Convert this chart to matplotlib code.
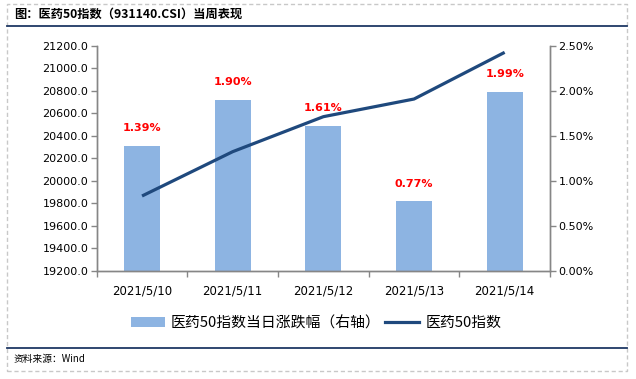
import matplotlib
matplotlib.use("Agg")
import matplotlib.pyplot as plt
from matplotlib.lines import Line2D
from matplotlib.patches import Rectangle, Patch
from matplotlib.ticker import FuncFormatter, MultipleLocator

plt.rcParams['font.family'] = ['DejaVu Sans', 'Noto Sans CJK SC']

categories = ["2021/5/10", "2021/5/11", "2021/5/12", "2021/5/13", "2021/5/14"]
pct_change = [1.39, 1.90, 1.61, 0.77, 1.99]          # %, right axis
index_close = [19864, 20258, 20569, 20726, 21141]    # left axis
title = "图：医药50指数（931140.CSI）当周表现"
bar_label = "医药50指数当日涨跌幅（右轴）"
line_label = "医药50指数"
source = "资料来源：Wind"

W, H = 636, 379
fig = plt.figure(figsize=(W / 100, H / 100), dpi=100)

cjk = ['Noto Sans CJK SC', 'DejaVu Sans']
bar_color = '#8DB4E2'
line_color = '#1F497D'
navy = '#1F3864'
spine_gray = '#868686'

# outer dashed border
fig.patches.append(Rectangle((7 / W, 1 - 371 / H), (627 - 7) / W, (371 - 4) / H,
                             transform=fig.transFigure, fill=False,
                             edgecolor='#C8C8C8', lw=1, ls=(0, (3, 2))))
# title and separator lines
fig.text(14 / W, 1 - 14.5 / H, title, family=cjk, fontsize=8.8, fontweight='bold',
         va='center', ha='left')
fig.lines.append(Line2D([7 / W, 627 / W], [1 - 26 / H] * 2, transform=fig.transFigure,
                        color=navy, lw=1.3))
fig.lines.append(Line2D([7 / W, 627 / W], [1 - 348 / H] * 2, transform=fig.transFigure,
                        color=navy, lw=1.3))
fig.text(14 / W, 1 - 359 / H, source, family=cjk, fontsize=7, va='center', ha='left')

ax = fig.add_axes([96.7 / W, 1 - 270.7 / H, (550 - 96.7) / W, (270.7 - 45.7) / H])
ax2 = ax.twinx()

x = list(range(len(categories)))
# bars on right axis
ax2.bar(x, pct_change, width=0.4, color=bar_color, zorder=1)
ax2.set_ylim(0, 2.5)
ax2.yaxis.set_major_locator(MultipleLocator(0.5))
ax2.yaxis.set_major_formatter(FuncFormatter(lambda v, p: f"{v:.2f}%"))
for xi, v in zip(x, pct_change):
    ax2.annotate(f"{v:.2f}%", (xi, v), xytext=(0, 12.5), textcoords='offset points',
                 ha='center', va='center', color='#FF0000', fontsize=8, fontweight='bold',
                 zorder=5)

# line on left axis, drawn above bars
ax.set_zorder(ax2.get_zorder() + 1)
ax.patch.set_visible(False)
ax.plot(x, index_close, color=line_color, lw=2.3, solid_capstyle='butt', zorder=3)
ax.set_ylim(19200, 21200)
ax.yaxis.set_major_locator(MultipleLocator(200))
ax.yaxis.set_major_formatter(FuncFormatter(lambda v, p: f"{v:.1f}"))
ax.set_xlim(-0.5, len(categories) - 0.5)
ax.set_xticks([i - 0.5 for i in range(len(categories) + 1)])
ax.set_xticklabels([])
ax.set_xticks(x, minor=True)
ax.set_xticklabels(categories, minor=True)
ax.tick_params(axis='x', which='minor', length=0, pad=10, labelsize=8.5)
ax.tick_params(axis='x', which='major', length=4, color=spine_gray, width=1)
ax.tick_params(axis='y', length=4, color=spine_gray, width=1, labelsize=8, pad=2)
ax2.tick_params(axis='y', length=4, color=spine_gray, width=1, labelsize=8, pad=2)

for a in (ax, ax2):
    a.spines['top'].set_visible(False)
    for s in ('left', 'right', 'bottom'):
        a.spines[s].set_color(spine_gray)
        a.spines[s].set_linewidth(1)

handles = [Patch(facecolor=bar_color, edgecolor='none'),
           Line2D([0], [0], color=line_color, lw=2.3)]
leg = fig.legend(handles, [bar_label, line_label], loc='center', ncol=2,
                 bbox_to_anchor=(316 / W, 1 - 323 / H), frameon=False,
                 prop={'family': cjk, 'size': 10.7}, handlelength=2.3,
                 handleheight=0.7, handletextpad=0.4, columnspacing=0.3)

fig.savefig("out.png", dpi=100)
